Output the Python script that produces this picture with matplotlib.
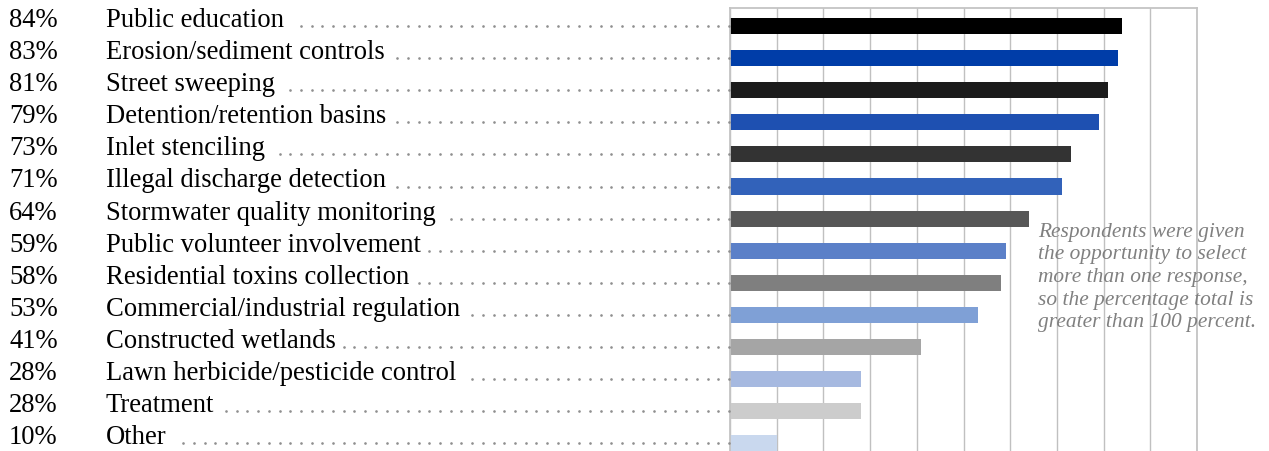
import numpy as np
import matplotlib
matplotlib.use("Agg")
import matplotlib.pyplot as plt
import matplotlib.transforms as mtransforms
from matplotlib.lines import Line2D

# --- dados ---------------------------------------------------------------
categorias = [
    "Public education",
    "Erosion/sediment controls",
    "Street sweeping",
    "Detention/retention basins",
    "Inlet stenciling",
    "Illegal discharge detection",
    "Stormwater quality monitoring",
    "Public volunteer involvement",
    "Residential toxins collection",
    "Commercial/industrial regulation",
    "Constructed wetlands",
    "Lawn herbicide/pesticide control",
    "Treatment",
    "Other",
]
percentuais = [84, 83, 81, 79, 73, 71, 64, 59, 58, 53, 41, 28, 28, 10]
cores = [
    "#000000", "#003da8", "#1b1b1b", "#1e50b1", "#333333", "#3262ba",
    "#575757", "#5b80c8", "#7f7f7f", "#7fa0d6", "#a5a5a5", "#a6b9e0",
    "#cccccc", "#c9d8ee",
]
nota = ("Respondents were given\nthe opportunity to select\n"
        "more than one response,\nso the percentage total is\n"
        "greater than 100 percent.")

plt.rcParams["font.family"] = ["Liberation Serif", "DejaVu Serif"]

W, H = 1269, 451
fig = plt.figure(figsize=(W / 100, H / 100), dpi=100)

# eixo das barras (passa um pouco da borda de baixo, como no original)
ax = fig.add_axes([730 / W, -10 / H, (1197 - 730) / W, 453 / H])
pos = list(range(len(categorias)))
ax.barh(pos, percentuais, height=0.5, color=cores, zorder=2)
ax.set_xlim(0, 100)
ax.set_ylim(len(categorias) - 0.45, -0.56)
ax.set_xticks(range(0, 101, 10))
ax.set_yticks([])
ax.grid(axis="x", color="#c0c0c0", lw=1.0, zorder=0)
ax.tick_params(length=0, labelbottom=False)
for s in ax.spines.values():
    s.set_color("#c4c4c4")
    s.set_linewidth(1.3)

# rotulos a esquerda (percentual + categoria) + pontilhado ate o eixo
trans = mtransforms.blended_transform_factory(fig.transFigure, ax.transData)
FS = 19.2
rotulos = []
for i, (cat, v) in enumerate(zip(categorias, percentuais)):
    fig.text(9 / W, i + 0.03, f"{v}%", transform=trans, fontsize=FS,
             va="baseline", ha="left")
    t = fig.text(106 / W, i + 0.03, cat, transform=trans, fontsize=FS,
                 va="baseline", ha="left")
    rotulos.append(t)

fig.canvas.draw()
r = fig.canvas.get_renderer()
PASSO = 10.7  # distancia entre os pontinhos, em pixels
for i, t in enumerate(rotulos):
    bb = t.get_window_extent(r)
    yf = ax.transData.transform((0, i))[1] / H
    xs = np.arange(729, bb.x1 + 7, -PASSO)[::-1]
    fig.add_artist(Line2D(xs / W, np.full(len(xs), yf),
                          transform=fig.transFigure, ls="none", marker="o",
                          ms=1.9, mew=0, color="#8f8f8f"))

fig.text(1038 / W, 1 - 223 / H, nota, style="italic", color="#808080",
         fontsize=15.4, va="top", ha="left", linespacing=1.25)

fig.savefig("out.png", dpi=100)
